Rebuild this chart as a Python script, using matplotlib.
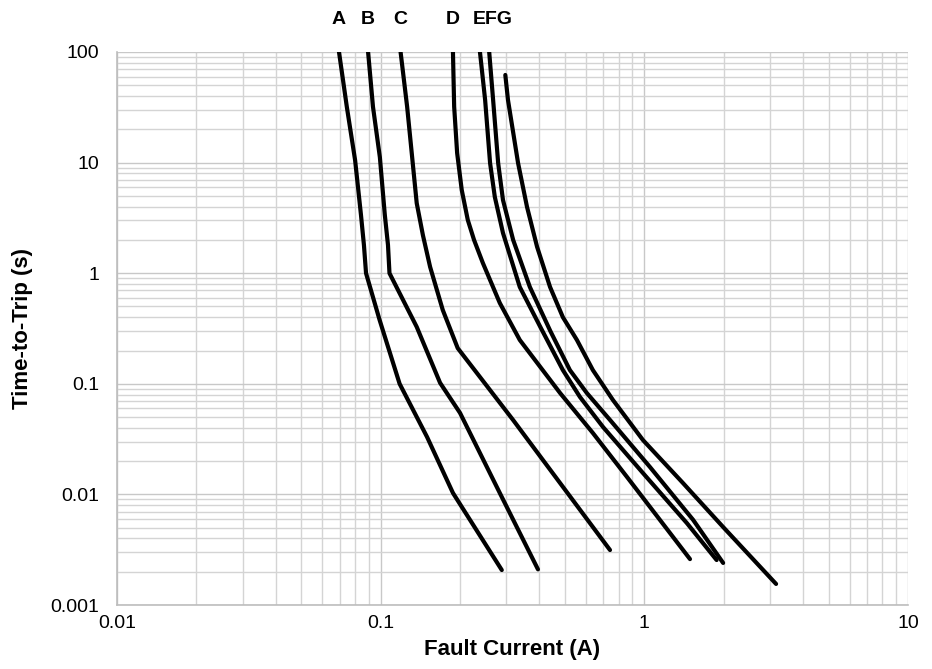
import matplotlib
matplotlib.use("Agg")
import matplotlib.pyplot as plt
from matplotlib.ticker import FixedLocator, FixedFormatter, LogLocator, NullFormatter

plt.rcParams['font.family'] = ['Liberation Sans', 'DejaVu Sans']

# trip curves (current in A, time in s)
a_x = [0.0695, 0.0744, 0.080, 0.0842, 0.0864, 0.088, 0.099, 0.118, 0.150, 0.188, 0.288]
a_y = [100, 32, 10.5, 3.36, 1.8, 1.0, 0.38, 0.1, 0.033, 0.0103, 0.00207]

b_x = [0.0896, 0.0935, 0.0993, 0.1037, 0.1066, 0.108, 0.137, 0.168, 0.200, 0.283, 0.395]
b_y = [100, 32, 11.2, 3.36, 1.8, 1.0, 0.327, 0.102, 0.0545, 0.0103, 0.0021]

c_x = [0.119, 0.126, 0.137, 0.1446, 0.154, 0.172, 0.196, 0.318, 0.741]
c_y = [100, 32, 4.3, 2.21, 1.14, 0.465, 0.21, 0.047, 0.00314]

d_x = [0.188, 0.19, 0.195, 0.203, 0.214, 0.226, 0.244, 0.283, 0.337, 0.479, 0.638, 0.859, 1.49]
d_y = [100, 32, 12.2, 5.65, 3.03, 2.0, 1.24, 0.538, 0.249, 0.0826, 0.0359, 0.0144, 0.0026]

e_x = [0.238, 0.249, 0.260, 0.271, 0.291, 0.337, 0.405, 0.491, 0.570, 0.697, 0.988, 1.45, 1.88]
e_y = [100, 36.8, 9.9, 4.89, 2.31, 0.75, 0.32, 0.133, 0.076, 0.0407, 0.0156, 0.0055, 0.00255]

f_x = [0.258, 0.267, 0.279, 0.291, 0.318, 0.368, 0.44, 0.522, 0.605, 0.741, 1.05, 1.53, 1.99]
f_y = [100, 36.8, 9.9, 4.59, 2.0, 0.75, 0.30, 0.133, 0.0826, 0.0471, 0.0177, 0.0059, 0.0024]

g_x = [0.297, 0.304, 0.332, 0.359, 0.392, 0.439, 0.491, 0.555, 0.638, 0.760, 0.988, 1.40, 1.99, 3.16]
g_y = [62, 36.8, 9.9, 3.97, 1.73, 0.75, 0.40, 0.249, 0.133, 0.0714, 0.031, 0.0127, 0.00507, 0.00155]

curves = [("A", a_x, a_y), ("B", b_x, b_y), ("C", c_x, c_y), ("D", d_x, d_y),
          ("E", e_x, e_y), ("F", f_x, f_y), ("G", g_x, g_y)]

x_ticks = [0.01, 0.1, 1, 10]
x_labels = ["0.01", "0.1", "1", "10"]
y_ticks = [0.001, 0.01, 0.1, 1, 10, 100]
y_labels = ["0.001", "0.01", "0.1", "1", "10", "100"]

fig = plt.figure(figsize=(9.32, 6.69), dpi=100)
ax = fig.add_axes([117 / 932, 1 - 605 / 669, (908 - 117) / 932, (605 - 52) / 669])

for name, xs, ys in curves:
    ax.plot(xs, ys, color="black", lw=3, solid_capstyle="round", solid_joinstyle="round")

# curve letters above the plot; E, F and G share one label
for name, xs in [("A", a_x), ("B", b_x), ("C", c_x), ("D", d_x)]:
    ax.text(xs[0], 1.058, name, transform=ax.get_xaxis_transform(),
            ha="center", va="center", fontsize=14, fontweight="bold")
ax.text((e_x[0] * g_x[0]) ** 0.5, 1.058, "EFG", transform=ax.get_xaxis_transform(),
        ha="center", va="center", fontsize=14, fontweight="bold")

ax.set_xscale("log")
ax.set_yscale("log")
ax.set_xlim(0.01, 10)
ax.set_ylim(0.001, 100)

ax.xaxis.set_major_locator(FixedLocator(x_ticks))
ax.xaxis.set_major_formatter(FixedFormatter(x_labels))
ax.yaxis.set_major_locator(FixedLocator(y_ticks))
ax.yaxis.set_major_formatter(FixedFormatter(y_labels))
ax.xaxis.set_minor_locator(LogLocator(base=10, subs=range(2, 10), numticks=20))
ax.yaxis.set_minor_locator(LogLocator(base=10, subs=range(2, 10), numticks=20))
ax.xaxis.set_minor_formatter(NullFormatter())
ax.yaxis.set_minor_formatter(NullFormatter())

ax.grid(which="major", color="#c8c8c8", lw=1)
ax.grid(which="minor", color="#d4d4d4", lw=1)
ax.set_axisbelow(True)
ax.tick_params(which="both", length=0, labelsize=14)
ax.tick_params(axis="x", pad=7)
ax.tick_params(axis="y", pad=13)

for side in ["top", "right"]:
    ax.spines[side].set_visible(False)
for side in ["left", "bottom"]:
    ax.spines[side].set_color("#bdbdbd")
    ax.spines[side].set_linewidth(1.2)

ax.set_xlabel("Fault Current (A)", fontsize=16, fontweight="bold", labelpad=5)
ax.set_ylabel("Time-to-Trip (s)", fontsize=16, fontweight="bold", labelpad=12)

plt.savefig("out.png", dpi=100)
